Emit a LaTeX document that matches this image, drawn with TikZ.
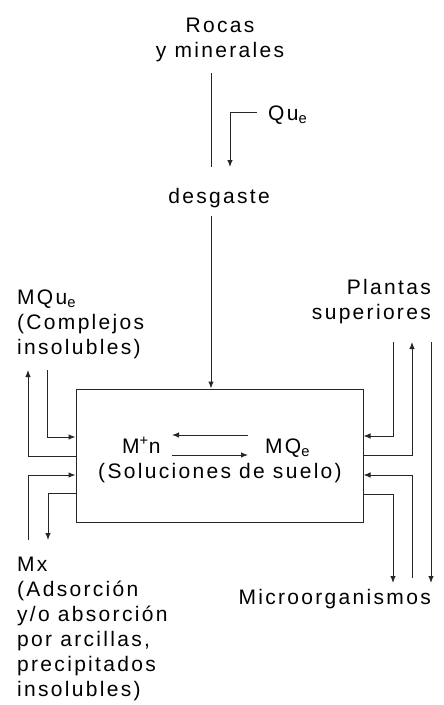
\documentclass[tikz,border=0pt]{standalone}
\usepackage{fontspec}
\setmainfont{Liberation Sans}[LetterSpace=11]
\usetikzlibrary{arrows.meta}
\begin{document}
\begin{tikzpicture}[x=1pt,y=-1pt,
  lbl/.style={inner sep=0pt,font=\fontsize{21}{25}\selectfont},
  ln/.style={line width=1pt,draw=black!85},
  arr/.style={ln,-{Latex[length=7pt,width=5.5pt]}}]
\useasboundingbox (0,0) rectangle (444,705);
% labels
\node[lbl,align=center] (rocas) at (220,40) {Rocas\\y minerales};
\node[lbl,anchor=base west] (que) at (268,120) {Qu\textsubscript{e}};
\node[lbl,anchor=base] (desg) at (219,203) {desgaste};
\node[lbl,align=left,anchor=west] (mque) at (17,324) {MQu\textsubscript{e}\\(Complejos\\insolubles)};
\node[lbl,align=left,anchor=west] (mx) at (17,629) {Mx\\(Adsorción\\y/o absorción\\por arcillas,\\precipitados\\insolubles)};
\node[lbl,align=right,anchor=east] (plant) at (431,302) {Plantas\\superiores};
\node[lbl,anchor=base east] (micro) at (431,604) {Microorganismos};
% box
\node[ln,draw,minimum width=287pt,minimum height=133pt,inner sep=0pt] (box) at (219.5,455.5) {};
\node[lbl,anchor=base west] (mn) at (122,453) {M\textsuperscript{+}n};
\node[lbl,anchor=base west] (mqe) at (265,453) {MQ\textsubscript{e}};
\node[lbl,anchor=base] (sol) at (220,478) {(Soluciones de suelo)};
% coordinates
\coordinate (t1) at (211,73);
\coordinate (t2) at (211,167);
\coordinate (q1) at (257,112);
\coordinate (q2) at (230,167);
\coordinate (d1) at (211,216);
\coordinate (e1) at (248,435);
\coordinate (e2) at (172,435);
\coordinate (e3) at (172,455);
\coordinate (e4) at (248,455);
\coordinate (l1) at (28,370);
\coordinate (l2) at (47,370);
\coordinate (l3) at (28,540);
\coordinate (l4) at (48,540);
\coordinate (r1) at (393,342);
\coordinate (r2) at (412,342);
\coordinate (r3) at (431,342);
\coordinate (r4) at (431,583);
\coordinate (r5) at (412,578);
\coordinate (r6) at (393,583);
% connectors top
\draw[ln] (t1) -- (t2);
\draw[arr] (q1) -| (q2);
\draw[arr] (d1) -- (d1 |- box.north);
% equilibrium
\draw[arr] (e1) -- (e2);
\draw[arr] (e3) -- (e4);
% left
\draw[arr] (box.west |- 0,456) -| (l1);
\draw[arr] (l2) |- (box.west |- 0,437);
\draw[arr] (l3) |- (box.west |- 0,475);
\draw[arr] (box.west |- 0,493) -| (l4);
% right
\draw[arr] (r1) |- (box.east |- 0,436);
\draw[arr] (box.east |- 0,455) -| (r2);
\draw[arr] (r3) -- (r4);
\draw[arr] (r5) |- (box.east |- 0,475);
\draw[arr] (box.east |- 0,494) -| (r6);
\end{tikzpicture}
\end{document}
